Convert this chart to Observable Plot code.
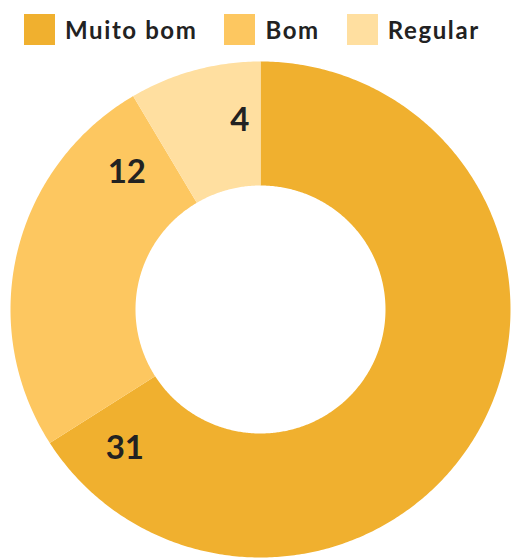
<!DOCTYPE html>
<html><head><meta charset="utf-8">
<script src="https://cdn.jsdelivr.net/npm/d3@7"></script>
<script src="https://cdn.jsdelivr.net/npm/@observablehq/plot@0.6"></script>
<style>
body{margin:0;background:#fff;font-family:Lato,"Noto Sans",sans-serif;}
#legend{display:flex;height:58px;align-items:center;padding-left:24px;box-sizing:border-box;}
.item{display:flex;align-items:center;margin-right:27px;font-weight:700;font-size:24px;letter-spacing:1.6px;color:#222;}
.sw{width:31px;height:31px;margin-right:10px;}
</style></head>
<body>
<div id="legend"></div>
<div id="chart"></div>
<script>
const categories = ["Muito bom", "Bom", "Regular"];
const values = [31, 12, 4];
const colors = ["#F0B02F", "#FDC760", "#FFDFA0"];

const leg = document.getElementById("legend");
categories.forEach((c,i)=>{
  const d=document.createElement("div");d.className="item";
  d.innerHTML=`<div class="sw" style="background:${colors[i]}"></div><span>${c}</span>`;
  leg.appendChild(d);
});

const data = categories.map((c,i)=>({cat:c,value:values[i]}));
const pie = d3.pie().value(d=>d.value).sort(null)(data);
const rIn = 0.5, rOut = 1;
const pts = [];
pie.forEach(a=>{
  const n = Math.max(4, Math.ceil((a.endAngle-a.startAngle)/0.01));
  const ring = [];
  for(let k=0;k<=n;k++){const t=a.startAngle+(a.endAngle-a.startAngle)*k/n; ring.push([Math.sin(t)*rOut, Math.cos(t)*rOut]);}
  for(let k=n;k>=0;k--){const t=a.startAngle+(a.endAngle-a.startAngle)*k/n; ring.push([Math.sin(t)*rIn, Math.cos(t)*rIn]);}
  ring.push(ring[0]);
  ring.forEach(p=>pts.push({cat:a.data.cat,x:p[0],y:p[1]}));
});
const labels = pie.map(a=>{
  const span=a.endAngle-a.startAngle;
  const t=a.endAngle-Math.min(13*Math.PI/180, span*0.2);
  const r=0.775;
  return {cat:a.data.cat,value:a.data.value,x:Math.sin(t)*r,y:Math.cos(t)*r};
});

const chart = Plot.plot({
  width:511, height:500,
  marginLeft:10, marginRight:1, marginTop:3, marginBottom:1,
  x:{domain:[-1,1],axis:null},
  y:{domain:[-1,1],axis:null},
  color:{domain:categories,range:colors},
  marks:[
    Plot.line(pts,{x:"x",y:"y",z:"cat",fill:"cat",stroke:"none",curve:"linear"}),
    Plot.text(labels,{x:"x",y:"y",dy:2,text:d=>String(d.value),fontSize:33,fontWeight:700,fill:"#222",fontFamily:"Lato, 'Noto Sans', sans-serif",letterSpacing:"2px"})
  ]
});
document.getElementById("chart").appendChild(chart);
</script>
</body></html>
